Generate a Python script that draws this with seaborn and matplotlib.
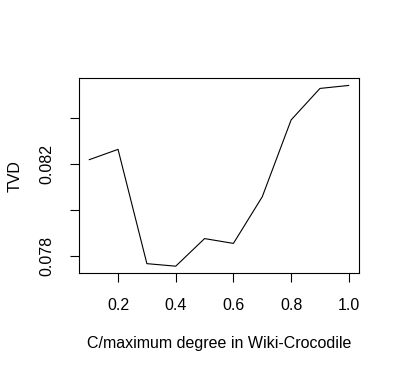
import matplotlib
matplotlib.use("Agg")
import matplotlib.pyplot as plt
import seaborn as sns
import pandas as pd

c_ratio = [0.1, 0.2, 0.3, 0.4, 0.5, 0.6, 0.7, 0.8, 0.9, 1.0]
tvd = [0.0822, 0.08265, 0.07768, 0.07757, 0.07877, 0.07856, 0.08059, 0.08393, 0.0853, 0.08543]
x_ticks = [0.2, 0.4, 0.6, 0.8, 1.0]
x_tick_labels = ["0.2", "0.4", "0.6", "0.8", "1.0"]
y_ticks = [0.078, 0.080, 0.082, 0.084]
y_tick_labels = ["0.078", "", "0.082", ""]

sns.set_theme(style="ticks")
plt.rcParams['font.family'] = ['Liberation Sans', 'DejaVu Sans']

df = pd.DataFrame({"C": c_ratio, "TVD": tvd})

fig = plt.figure(figsize=(4.0, 3.72), dpi=100)
ax = fig.add_axes([0.197, 0.2653, 0.701, 0.5242])
sns.lineplot(data=df, x="C", y="TVD", ax=ax, color="black", linewidth=0.8)

ax.set_xlim(0.064, 1.036)
ax.set_ylim(0.07726, 0.08574)
ax.set_xticks(x_ticks)
ax.set_xticklabels(x_tick_labels)
ax.set_yticks(y_ticks)
ax.set_yticklabels(y_tick_labels, rotation=90, va="center")
ax.tick_params(axis="both", direction="out", length=6.5, width=0.8, color="black",
               labelsize=11.5, labelcolor="black", pad=11)
for s in ax.spines.values():
    s.set_visible(True)
    s.set_color("black")
    s.set_linewidth(0.8)
ax.set_xlabel("C/maximum degree in Wiki-Crocodile", fontsize=11.5, labelpad=17, color="black")
ax.set_ylabel("TVD", fontsize=11.5, labelpad=12, color="black")
ax.grid(False)

fig.savefig("out.png", dpi=100, facecolor="white")
